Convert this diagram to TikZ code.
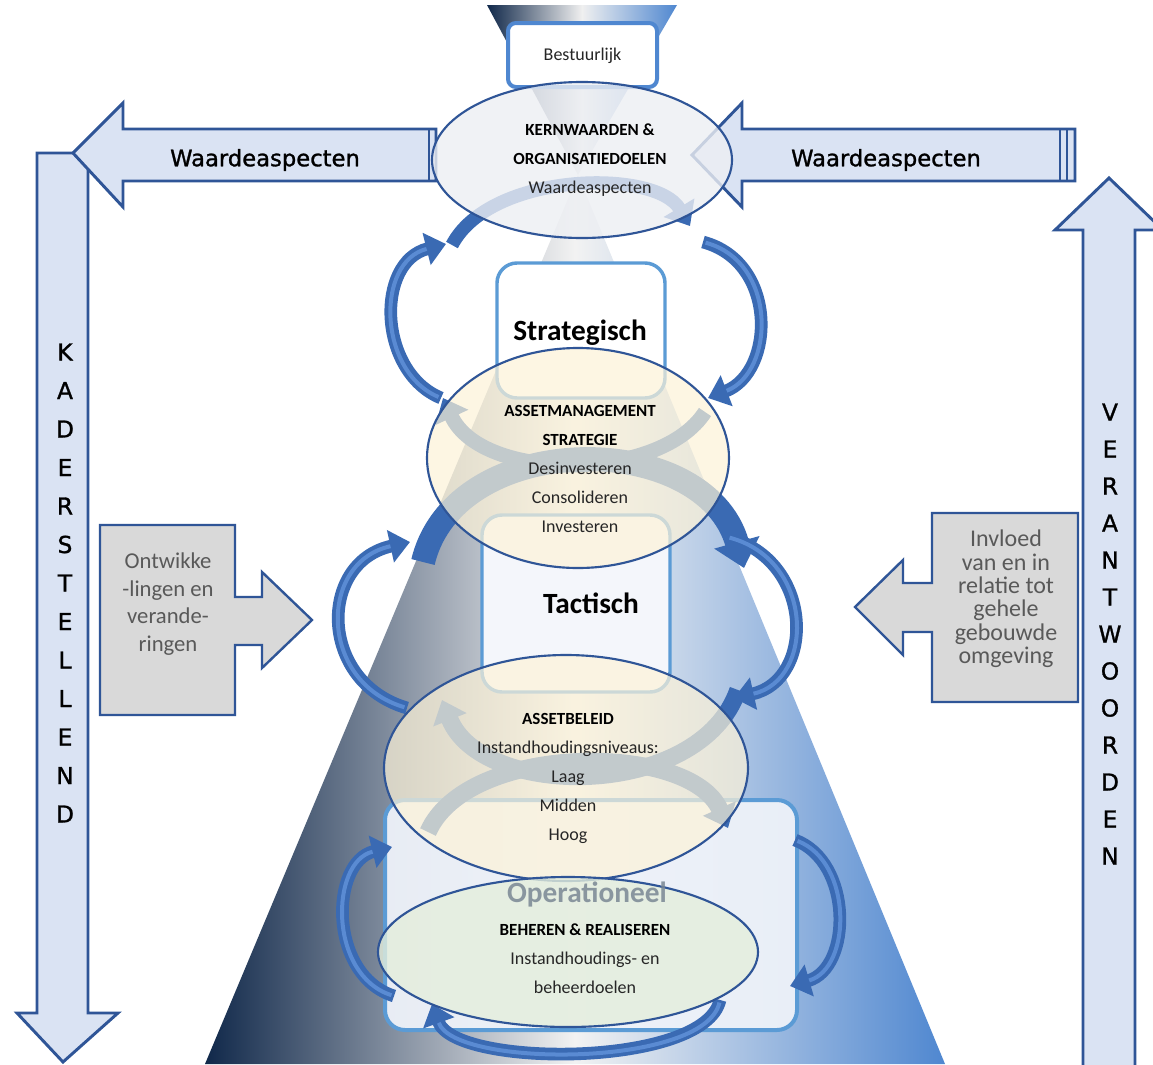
\documentclass[tikz,border=0pt]{standalone}
\usepackage{fontspec}
\setmainfont{Carlito}
\newfontfamily\dvs[FakeBold=1.2]{DejaVu Sans}
\usetikzlibrary{arrows.meta,shapes.geometric}
\definecolor{dkblue}{HTML}{2F5597}
\definecolor{arrfill}{HTML}{DAE3F3}
\definecolor{navy}{HTML}{10284A}
\definecolor{midblue}{HTML}{4F87D0}
\definecolor{lvl}{HTML}{5B9BD5}
\definecolor{cream}{HTML}{FDF3D8}
\definecolor{pgreen}{HTML}{E4EEDC}
\definecolor{egray}{HTML}{EDEFF3}
\definecolor{cyc}{HTML}{3A6AB3}
\definecolor{cychi}{HTML}{5A8BD3}
\definecolor{txt}{HTML}{262626}
\definecolor{graybox}{HTML}{D9D9D9}
\definecolor{graytxt}{HTML}{595959}
\definecolor{optxt}{HTML}{7A8794}
\definecolor{opfill}{HTML}{EEF2F9}
\definecolor{tacfill}{HTML}{F4F6FB}
\begin{document}
\begin{tikzpicture}[x=0.75pt,y=-0.75pt,
  bigarrow/.style={draw=dkblue, line width=2.2pt, fill=arrfill, line join=miter},
  sidebox/.style={draw=dkblue, line width=1.8pt, fill=graybox, line join=miter},
  lvlbox/.style={draw=lvl, line width=2.6pt, rounded corners=15pt},
  ell/.style={draw=dkblue, line width=1.6pt},
  cycarrow/.style={draw=cyc, line width=9.5pt, -{Triangle[width=24pt,length=15pt]}},
  cychl/.style={draw=cychi, line width=3pt, shorten >=15pt, shorten <=2pt},
  innerarc/.style={draw=cyc, line width=11pt, -{Triangle[width=26pt,length=16pt]}},
  eltext/.style={align=center, font=\fontsize{13.5}{21.75}\selectfont, text=txt},
  vlet/.style={font=\dvs\fontsize{17.5}{17.5}\selectfont, text=black},
  arrtext/.style={font=\dvs\fontsize{17}{17}\selectfont, text=black},
  boxtext/.style={align=center, text=graytxt},
  lvltitle/.style={font=\bfseries\fontsize{22}{22}\selectfont, text=black}
]
\useasboundingbox (0,0) rectangle (1153,1064);
\fill[white] (0,0) rectangle (1153,1064);

% vertical arrows
\draw[bigarrow] (37,153) -- (88,153) -- (88,1013) -- (118,1013) -- (63,1062) -- (17,1013) -- (37,1013) -- cycle;
\draw[bigarrow] (1083,1075) -- (1083,230) -- (1055,230) -- (1109,178) -- (1163,230) -- (1135,230) -- (1135,1075);

% horizontal arrows
\draw[bigarrow] (73,153) -- (123,103) -- (123,129) -- (436,129) -- (436,181) -- (123,181) -- (123,207) -- cycle;
\draw[dkblue, line width=1.5pt] (429,129) -- (429,181);
\draw[bigarrow] (692,155) -- (742,103) -- (742,129) -- (1075,129) -- (1075,181) -- (742,181) -- (742,207) -- cycle;
\draw[dkblue, line width=2.2pt] (1060,129) -- (1060,181);
\draw[dkblue, line width=1pt] (1067,129) -- (1067,181);

% letters
\foreach \l [count=\i from 0] in {K,A,D,E,R,S,T,E,L,L,E,N,D}
  \node[vlet] (kl\i) at (65,352+38.5*\i) {\l};
\foreach \l [count=\i from 0] in {V,E,R,A,N,T,W,O,O,R,D,E,N}
  \node[vlet] (vl\i) at (1110,412+37*\i) {\l};

\node[arrtext] (wal) at (265,160) {Waardeaspecten};
\node[arrtext] (war) at (886,160) {Waardeaspecten};

% side gray arrows
\draw[sidebox] (100,525) -- (235,525) -- (235,597) -- (262,597) -- (262,572) -- (312,620) -- (262,668) -- (262,645) -- (235,645) -- (235,715) -- (100,715) -- cycle;
\node[boxtext, font=\fontsize{17}{20.6}\selectfont] (ontw) at (168,604) {Ontwikke\\-lingen en\\verande-\\ringen};
\draw[sidebox] (1078,513) -- (932,513) -- (932,583) -- (903,583) -- (903,560) -- (855,607) -- (903,655) -- (903,632) -- (932,632) -- (932,702) -- (1078,702) -- cycle;
\node[boxtext, font=\fontsize{18}{17.5}\selectfont] (invl) at (1006,599) {Invloed\\van en in\\relatie tot\\gehele\\gebouwde\\omgeving};

% pyramid and funnel
\shade[left color=navy, right color=midblue, middle color=white!90!gray] (578,175) -- (945,1064) -- (205,1064) -- cycle;
\shade[left color=navy, right color=midblue, middle color=gray!12] (487,5) -- (677,5) -- (578,175) -- cycle;

% Bestuurlijk box
\draw[draw=midblue, line width=3pt, fill=white, rounded corners=6pt] (508,23) rectangle (657,87);
\node[font=\fontsize{13.5}{13.5}\selectfont, text=txt] (best) at (582.5,56) {Bestuurlijk};

% level boxes
\draw[lvlbox, fill=white] (497,263) rectangle (665,398);
\draw[lvlbox, fill=tacfill] (482,515) rectangle (670,692);
\draw[lvlbox, line width=3pt, fill=opfill, fill opacity=0.95] (385,800) rectangle (797,1030);
\node[lvltitle] (strat) at (580,333) {Strategisch};
\node[lvltitle] (tact) at (591,603) {Tactisch};

% inner arcs
\draw[innerarc, line width=10pt] (452,245) .. controls (490,172) and (655,168) .. (690,226);
\draw[innerarc] (705,412) .. controls (660,482) and (482,482) .. (443,398);
\draw[innerarc, line width=18pt, -{Triangle[width=34pt,length=20pt]}] (423,562) .. controls (455,428) and (705,428) .. (744,568);
\draw[innerarc, line width=13pt] (738,690) .. controls (700,800) and (482,800) .. (442,700);
\draw[innerarc, line width=13pt] (428,832) .. controls (468,742) and (690,742) .. (728,828);

% cycle arrows
\foreach \p in {
  {(441,398) .. controls (378,372) and (375,262) .. (446,244)},
  {(703,242) .. controls (778,262) and (775,372) .. (708,398)},
  {(407,708) .. controls (318,682) and (318,562) .. (410,542)},
  {(727,537) .. controls (815,560) and (815,680) .. (734,698)},
  {(394,996) .. controls (328,975) and (330,862) .. (392,847)},
  {(795,840) .. controls (853,862) and (852,968) .. (790,986)},
  {(720,1000) .. controls (705,1068) and (455,1068) .. (432,1004)}}
{
  \draw[cycarrow] \p;
  \draw[cychl] \p;
}

% ellipses
\draw[ell, fill=egray, fill opacity=0.8] (582,160) ellipse [x radius=112.5pt, y radius=58.5pt];
\draw[ell, fill=cream, fill opacity=0.7] (578,458) ellipse [x radius=113.25pt, y radius=82.5pt];
\draw[ell, fill=cream, fill opacity=0.7] (566,768) ellipse [x radius=136.5pt, y radius=84.75pt];
\draw[ell, fill=pgreen, fill opacity=0.8] (568,952) ellipse [x radius=142.5pt, y radius=56.25pt];
\node[lvltitle, text=optxt, text opacity=0.85] (oper) at (587,894) {Operationeel};

% ellipse texts
\node[eltext] (e1t) at (590,160) {{\bfseries\fontsize{12.75}{21.75}\selectfont\color{black}KERNWAARDEN \&}\\{\bfseries\fontsize{12.75}{21.75}\selectfont\color{black}ORGANISATIEDOELEN}\\Waardeaspecten};
\node[eltext] (e2t) at (580,468.5) {{\bfseries\fontsize{12.75}{21.75}\selectfont\color{black}ASSETMANAGEMENT}\\{\bfseries\fontsize{12.75}{21.75}\selectfont\color{black}STRATEGIE}\\Desinvesteren\\Consolideren\\Investeren};
\node[eltext] (e3t) at (568,778) {{\bfseries\fontsize{12.75}{21.75}\selectfont\color{black}ASSETBELEID}\\Instandhoudingsniveaus:\\Laag\\Midden\\Hoog};
\node[eltext] (e4t) at (585,958.5) {{\bfseries\fontsize{12.75}{21.75}\selectfont\color{black}BEHEREN \& REALISEREN}\\Instandhoudings- en\\beheerdoelen};
\end{tikzpicture}
\end{document}
